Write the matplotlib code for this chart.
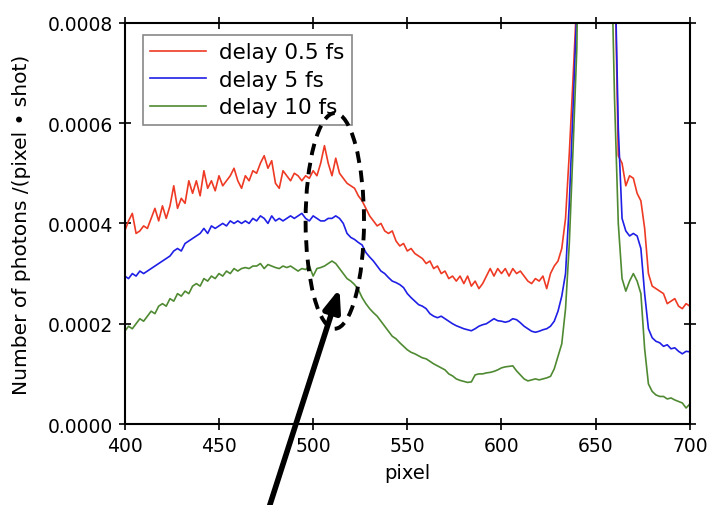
import numpy as np
import matplotlib
matplotlib.use("Agg")
import matplotlib.pyplot as plt
from matplotlib.patches import Ellipse
from matplotlib.ticker import FormatStrFormatter, MultipleLocator

# pixel axis (every 2 pixels), values in units of 1e-4 photons/(pixel*shot)
pixel = np.arange(400, 701, 2)

delay_05 = [
    3.85, 4.05, 4.2, 3.8, 3.85, 3.95, 3.9, 4.1, 4.3, 4.05,
    4.35, 4.1, 4.35, 4.75, 4.3, 4.5, 4.4, 4.85, 4.6, 4.85,
    4.55, 5.05, 4.7, 4.85, 4.65, 4.95, 4.75, 4.85, 4.95, 5.1,
    4.85, 4.7, 4.95, 4.85, 5.05, 5.0, 5.2, 5.35, 5.1, 5.25,
    4.8, 4.7, 5.05, 4.95, 4.85, 5.0, 4.95, 4.85, 4.95, 4.9,
    5.05, 4.95, 5.2, 5.55, 5.2, 4.95, 5.3, 5.0, 4.9, 4.8,
    4.75, 4.7, 4.55, 4.45, 4.3, 4.15, 4.05, 3.95, 4.0, 3.85,
    3.8, 3.85, 3.65, 3.55, 3.6, 3.45, 3.5, 3.4, 3.35, 3.3,
    3.2, 3.25, 3.1, 3.15, 3.0, 3.05, 2.9, 2.95, 2.85, 2.95,
    2.8, 2.95, 2.75, 2.85, 2.7, 2.8, 2.95, 3.1, 2.95, 3.1,
    3.0, 3.1, 2.95, 3.1, 3.0, 3.05, 2.95, 2.85, 2.8, 2.9,
    2.85, 2.95, 2.7, 3.0, 3.15, 3.25, 3.5, 4.1, 5.4, 6.9,
    8.5, 13, 20, 28, 33, 35, 33, 27, 19, 14,
    9.5, 5.35, 5.2, 4.75, 4.95, 4.9, 4.6, 4.45, 3.9, 3.0,
    2.75, 2.7, 2.65, 2.6, 2.4, 2.45, 2.5, 2.35, 2.3, 2.4,
    2.35,
]

delay_5 = [
    2.95, 2.9, 3.0, 2.95, 3.05, 3.0, 3.05, 3.1, 3.15, 3.2,
    3.25, 3.3, 3.35, 3.45, 3.5, 3.45, 3.6, 3.65, 3.7, 3.75,
    3.8, 3.9, 3.8, 3.95, 3.9, 3.95, 4.0, 3.95, 4.05, 4.0,
    4.05, 4.0, 4.05, 4.0, 4.1, 4.05, 4.15, 4.1, 4.0, 4.15,
    4.05, 4.1, 4.05, 4.1, 4.15, 4.1, 4.15, 4.2, 4.1, 4.05,
    4.15, 4.1, 4.05, 4.05, 4.1, 4.1, 4.15, 4.1, 4.0, 3.8,
    3.72, 3.68, 3.62, 3.57, 3.42, 3.33, 3.25, 3.15, 3.05, 3.0,
    2.92, 2.85, 2.82, 2.78, 2.72, 2.6, 2.52, 2.45, 2.38, 2.35,
    2.3, 2.2, 2.15, 2.12, 2.15, 2.1, 2.05, 2.0, 1.96, 1.93,
    1.9, 1.88, 1.86, 1.9, 1.95, 1.98, 2.0, 2.05, 2.1, 2.06,
    2.05, 2.03, 2.05, 2.1, 2.08, 2.02, 1.95, 1.9, 1.85, 1.83,
    1.85, 1.88, 1.9, 1.95, 2.05, 2.25, 2.55, 3.0, 4.4, 6.3,
    8.3, 13, 20, 28, 33, 35, 33, 27, 19, 14,
    9.5, 5.9, 4.1, 3.85, 3.75, 3.8, 3.75, 3.5, 2.6, 1.9,
    1.72, 1.65, 1.62, 1.55, 1.58, 1.5, 1.52, 1.45, 1.4, 1.45,
    1.44,
]

delay_10 = [
    1.85, 1.95, 1.9, 2.0, 2.1, 2.05, 2.15, 2.25, 2.2, 2.35,
    2.4, 2.35, 2.5, 2.45, 2.6, 2.55, 2.65, 2.6, 2.75, 2.8,
    2.75, 2.9, 2.85, 2.95, 2.9, 3.0, 2.95, 3.05, 3.0, 3.1,
    3.05, 3.1, 3.12, 3.1, 3.15, 3.15, 3.2, 3.1, 3.18, 3.15,
    3.12, 3.1, 3.15, 3.12, 3.15, 3.1, 3.05, 3.1, 3.08, 3.15,
    2.95, 3.1, 3.12, 3.15, 3.2, 3.25, 3.2, 3.1, 3.0, 2.9,
    2.85, 2.78, 2.68, 2.52, 2.4, 2.3, 2.22, 2.15, 2.05, 1.95,
    1.85, 1.75, 1.7, 1.62, 1.55, 1.48, 1.43, 1.4, 1.36, 1.32,
    1.3, 1.25, 1.2, 1.16, 1.12, 1.08, 1.0, 0.96, 0.9, 0.87,
    0.85, 0.83, 0.84, 0.98, 1.0, 1.0, 1.02, 1.03, 1.05, 1.08,
    1.12, 1.14, 1.15, 1.16, 1.06, 0.98, 0.9, 0.86, 0.88, 0.9,
    0.88, 0.9, 0.92, 0.95, 1.1, 1.35, 1.6, 2.3, 3.6, 5.5,
    7.5, 13, 20, 28, 33, 35, 33, 27, 19, 10,
    6.5, 4.0, 2.9, 2.65, 2.85, 3.0, 2.85, 2.6, 1.5, 0.8,
    0.65, 0.58, 0.55, 0.55, 0.5, 0.52, 0.48, 0.45, 0.42, 0.32,
    0.4,
]

labels = ["delay 0.5 fs", "delay 5 fs", "delay 10 fs"]
colors = ["#ee3a24", "#1f1fe6", "#4f8a32"]

fig = plt.figure(figsize=(7.09, 5.06), dpi=100)
ax = fig.add_axes([0.176, 0.160, 0.797, 0.793])

for vals, lab, c in zip([delay_05, delay_5, delay_10], labels, colors):
    ax.plot(pixel, np.array(vals) * 1e-4, color=c, lw=1.2, label=lab)

ax.set_xlim(400, 700)
ax.set_ylim(0, 0.0008)
ax.xaxis.set_major_locator(MultipleLocator(50))
ax.yaxis.set_major_locator(MultipleLocator(0.0002))
ax.yaxis.set_major_formatter(FormatStrFormatter("%.4f"))
ax.tick_params(direction="inout", length=9, width=1.2, top=True, right=True,
               labelsize=13.5, pad=4)
for s in ax.spines.values():
    s.set_linewidth(1.5)

ax.set_xlabel("pixel", fontsize=14, labelpad=6)
ax.set_ylabel("Number of photons /(pixel \u2022 shot)", fontsize=14.5)
ax.yaxis.set_label_coords(-0.166, 0.5)

leg = ax.legend(loc="upper left", bbox_to_anchor=(0.032, 0.97), borderaxespad=0,
                fontsize=15.5, handlelength=2.6, labelspacing=0.35,
                handletextpad=0.6, borderpad=0.35,
                fancybox=False, framealpha=1, edgecolor="#888888")
leg.get_frame().set_linewidth(1.2)

# dashed ellipse marking the feature near pixel 510
ell = Ellipse((511.5, 0.000405), 31, 0.00043, fill=False, ls=(0, (3, 2)),
              lw=2.8, ec="black", zorder=10)
ax.add_patch(ell)

# arrow coming from below the plot
ax.annotate("", xy=(514, 0.00027), xycoords="data",
            xytext=(0.376, -0.02), textcoords="figure fraction",
            arrowprops=dict(arrowstyle="-|>,head_length=1.3,head_width=0.5",
                            color="black", lw=4, shrinkA=0, shrinkB=0),
            annotation_clip=False, zorder=11)

fig.savefig("out.png", dpi=100)
